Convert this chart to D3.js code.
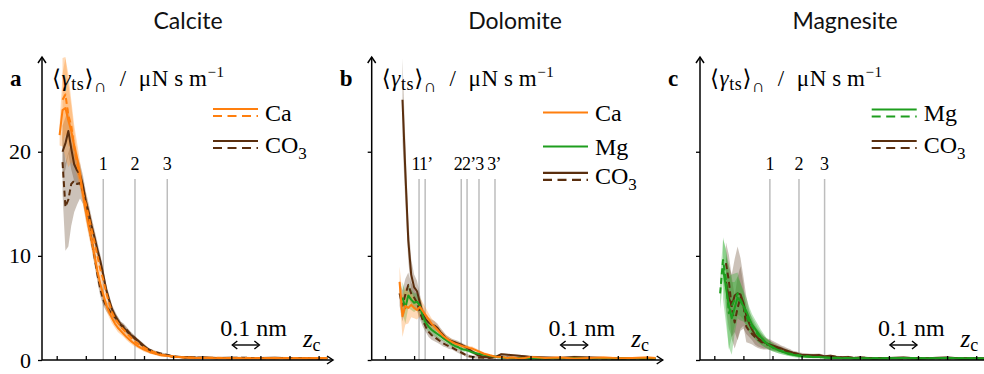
<!DOCTYPE html>
<html><head><meta charset="utf-8">
<script src="https://cdn.jsdelivr.net/npm/d3@7"></script>
<style>
body{margin:0;background:#fff;}
svg{display:block;}
.serif{font-family:"Liberation Serif","DejaVu Serif",serif;}
</style></head>
<body><svg id="chart" width="984" height="374"></svg>
<script>
// ---------- data ----------
const zGrid = [0.01,0.02,0.03,0.04,0.05,0.06,0.07,0.08,0.09,0.10,
0.11,0.12,0.13,0.14,0.15,0.16,0.17,0.18,0.19,0.20,
0.21,0.22,0.23,0.24,0.25,0.26,0.27,0.28,0.29,0.30,
0.32,0.34,0.36,0.38,0.40,0.42,0.44,0.46,0.48,0.50,
0.55,0.60,0.65,0.70,0.75,0.80,0.85,0.90,0.93];
const panelTitles = ["Calcite","Dolomite","Magnesite"];
const panelLetters = ["a","b","c"];
const xTicks = [0,0.1,0.2,0.3,0.4,0.5,0.6,0.7,0.8,0.9];
const yTicks = [0,10,20];
const markersA = [0.16,0.269,0.38];
const labelsA = ["1","2","3"];
const markersB = [0.117,0.138,0.262,0.282,0.323,0.378];
const labelsB = ["1","1’","2","2’","3","3’"];
const markersC = [0.191,0.291,0.379];
const labelsC = ["1","2","3"];

// Calcite
const aCa = [21.6,24.0,24.2,23.0,22.0,20.6,19.4,17.9,16.0,14.3,
12.8,11.5,10.0,8.5,7.3,6.3,5.3,4.6,4.0,3.5,
3.1,2.8,2.5,2.2,1.95,1.7,1.5,1.3,1.15,1.0,
0.75,0.6,0.45,0.4,0.3,0.28,0.25,0.22,0.2,0.22,
0.18,0.2,0.15,0.18,0.2,0.15,0.18,0.2,0.15];
const aCaErr = [1.0,3.5,4.8,4.5,3.0,2.0,1.5,1.2,1.0,1.0,
0.9,0.9,0.8,0.8,0.7,0.7,0.6,0.5,0.5,0.4,
0.4,0.35,0.3,0.3,0.3,0.25,0.25,0.2,0.2,0.2,
0.15,0.15,0.15,0.12,0.12,0.1,0.1,0.1,0.1,0.1,
0.1,0.1,0.1,0.1,0.1,0.1,0.1,0.1,0.1];
const aCaD = [null,25.0,25.5,23.5,22.5,20.5,18.9,17.5,16.0,15.0,
13.8,12.5,11.3,10.0,8.7,7.7,6.5,5.5,4.6,4.0,
3.6,3.2,2.9,2.6,2.3,2.0,1.75,1.55,1.35,1.2,
0.9,0.7,0.5,0.4,0.35,0.3,0.25,0.25,0.2,0.2,
0.22,0.15,0.2,0.18,0.15,0.2,0.15,0.18,0.2];
const aCaDErr = [null,4.0,3.8,3.0,2.0,1.5,1.2,1.0,1.0,1.0,
0.9,0.9,0.8,0.8,0.8,0.7,0.6,0.5,0.5,0.4,
0.4,0.35,0.3,0.3,0.3,0.25,0.25,0.2,0.2,0.2,
0.15,0.15,0.12,0.12,0.1,0.1,0.1,0.1,0.1,0.1,
0.1,0.1,0.1,0.1,0.1,0.1,0.1,0.1,0.1];
const aCO3 = [null,20.0,20.8,22.0,20.3,18.8,18.2,17.8,16.8,15.3,
14.2,12.9,11.8,10.6,9.5,8.2,6.8,5.8,4.9,4.3,
3.8,3.4,3.1,2.8,2.5,2.3,2.0,1.85,1.6,1.35,
0.9,0.65,0.5,0.45,0.3,0.3,0.25,0.28,0.22,0.25,
0.2,0.22,0.18,0.2,0.22,0.18,0.2,0.15,0.18];
const aCO3Err = [null,2.5,2.5,2.2,2.0,1.6,1.3,1.1,1.0,0.9,
0.8,0.8,0.7,0.7,0.6,0.6,0.5,0.5,0.4,0.4,
0.35,0.3,0.3,0.3,0.25,0.25,0.2,0.2,0.2,0.2,
0.15,0.15,0.12,0.12,0.1,0.1,0.1,0.1,0.1,0.1,
0.1,0.1,0.1,0.1,0.1,0.1,0.1,0.1,0.1];
const aCO3D = [null,19.0,14.7,15.4,16.9,17.2,16.9,17.0,16.2,14.6,
13.1,11.5,9.9,8.2,6.8,5.8,5.2,4.8,4.4,4.1,
3.8,3.4,3.2,2.9,2.6,2.3,2.1,1.8,1.5,1.3,
0.96,0.75,0.6,0.48,0.35,0.3,0.25,0.28,0.2,0.22,
0.18,0.2,0.22,0.15,0.18,0.2,0.18,0.15,0.2];
const aCO3DErr = [null,3.0,4.2,4.5,4.0,3.0,2.0,1.5,1.2,1.0,
0.9,0.8,0.8,0.7,0.7,0.6,0.5,0.5,0.4,0.4,
0.35,0.3,0.3,0.3,0.25,0.25,0.2,0.2,0.2,0.2,
0.15,0.15,0.12,0.12,0.1,0.1,0.1,0.1,0.1,0.1,
0.1,0.1,0.1,0.1,0.1,0.1,0.1,0.1,0.1];

// Dolomite
const bCa = [null,null,null,null,7.5,4.2,5.2,5.0,5.3,5.0,
4.8,5.1,4.7,4.3,3.9,3.5,3.2,2.9,2.6,2.3,
2.1,1.9,1.75,1.6,1.5,1.4,1.3,1.25,1.15,1.1,
0.85,0.6,0.45,0.32,0.3,0.2,0.25,0.15,0.2,0.3,
0.2,0.25,0.15,0.2,0.25,0.18,0.2,0.25,0.2];
const bCaErr = [null,null,null,null,1.5,2.0,1.8,1.5,1.2,1.0,
0.9,0.9,0.8,0.7,0.6,0.5,0.5,0.45,0.4,0.35,
0.3,0.3,0.25,0.25,0.25,0.2,0.2,0.2,0.2,0.2,
0.15,0.15,0.12,0.1,0.1,0.1,0.1,0.1,0.1,0.1,
0.1,0.1,0.1,0.1,0.1,0.1,0.1,0.1,0.1];
const bMg = [null,null,null,null,null,6.0,5.0,6.2,5.8,5.5,
5.6,5.2,4.2,3.6,3.2,2.9,2.7,2.5,2.3,2.1,
1.9,1.7,1.5,1.35,1.25,1.1,1.0,0.95,0.85,0.75,
0.6,0.5,0.4,0.32,0.25,0.2,0.18,0.2,0.15,0.18,
0.15,0.2,0.18,0.15,0.2,0.15,0.18,0.2,0.15];
const bMgErr = [null,null,null,null,null,1.5,1.5,1.2,1.0,0.9,
0.8,0.8,0.7,0.6,0.5,0.5,0.45,0.4,0.35,0.3,
0.3,0.25,0.25,0.2,0.2,0.2,0.2,0.15,0.15,0.15,
0.12,0.12,0.1,0.1,0.1,0.1,0.1,0.1,0.1,0.1,
0.1,0.1,0.1,0.1,0.1,0.1,0.1,0.1,0.1];
const bCO3 = [null,null,null,null,null,25.0,18.0,11.5,8.2,7.0,
6.6,5.5,4.4,3.9,3.6,3.4,3.3,3.1,2.7,2.4,
2.1,1.9,1.8,1.7,1.6,1.5,1.35,1.2,1.0,0.8,
0.45,0.3,0.28,0.3,0.55,0.5,0.45,0.4,0.35,0.3,
0.25,0.2,0.3,0.25,0.2,0.15,0.2,0.15,0.1];
const bCO3Err = [null,null,null,null,null,4.0,3.0,2.0,1.5,1.2,
1.0,0.8,0.7,0.6,0.5,0.5,0.45,0.4,0.4,0.35,
0.3,0.3,0.25,0.25,0.25,0.2,0.2,0.2,0.2,0.2,
0.15,0.15,0.12,0.12,0.12,0.1,0.1,0.1,0.1,0.1,
0.1,0.1,0.1,0.1,0.1,0.1,0.1,0.1,0.1];
const bCO3D = [null,null,null,null,6.4,5.2,6.3,7.2,6.4,6.0,
5.5,4.6,3.8,3.2,2.7,2.4,2.2,2.0,1.8,1.6,
1.45,1.3,1.2,1.05,0.9,0.75,0.6,0.45,0.35,0.3,
0.25,0.22,0.2,0.25,0.3,0.25,0.2,0.18,0.2,0.15,
0.18,0.15,0.2,0.18,0.15,0.12,0.15,0.12,0.1];
const bCO3DErr = [null,null,null,null,1.2,1.5,1.5,1.2,1.0,0.9,
0.8,0.7,0.6,0.5,0.5,0.45,0.4,0.35,0.3,0.3,
0.25,0.25,0.2,0.2,0.2,0.2,0.15,0.15,0.15,0.15,
0.12,0.12,0.1,0.1,0.1,0.1,0.1,0.1,0.1,0.1,
0.1,0.1,0.1,0.1,0.1,0.1,0.1,0.1,0.1];

// Magnesite
const cMg = [null,null,8.8,7.0,5.2,4.0,5.0,6.0,5.6,5.2,
4.7,4.0,3.4,3.0,2.6,2.2,1.9,1.6,1.4,1.25,
1.1,0.95,0.85,0.75,0.65,0.55,0.5,0.45,0.4,0.35,
0.32,0.3,0.28,0.25,0.2,0.22,0.18,0.2,0.15,0.18,
0.15,0.18,0.2,0.15,0.18,0.2,0.15,0.18,0.15];
const cMgErr = [null,null,3.0,3.5,4.0,3.5,2.5,2.0,1.8,1.5,
1.3,1.1,1.0,0.9,0.8,0.7,0.6,0.5,0.45,0.4,
0.35,0.3,0.3,0.25,0.25,0.2,0.2,0.2,0.2,0.15,
0.15,0.12,0.12,0.1,0.1,0.1,0.1,0.1,0.1,0.1,
0.1,0.1,0.1,0.1,0.1,0.1,0.1,0.1,0.1];
const cMgD = [null,6.4,9.6,7.7,4.5,5.2,5.8,6.4,5.8,5.2,
4.3,3.6,3.2,2.8,2.4,2.1,1.8,1.6,1.4,1.2,
1.05,0.95,0.85,0.75,0.65,0.6,0.55,0.5,0.45,0.4,
0.35,0.3,0.28,0.25,0.22,0.2,0.18,0.2,0.18,0.15,
0.18,0.15,0.2,0.18,0.15,0.2,0.18,0.15,0.15];
const cMgDErr = [null,1.5,2.0,3.0,3.5,3.0,2.5,2.0,1.6,1.3,
1.1,1.0,0.9,0.8,0.7,0.6,0.5,0.45,0.4,0.35,
0.3,0.3,0.25,0.25,0.2,0.2,0.2,0.2,0.15,0.15,
0.12,0.12,0.1,0.1,0.1,0.1,0.1,0.1,0.1,0.1,
0.1,0.1,0.1,0.1,0.1,0.1,0.1,0.1,0.1];
const cCO3 = [null,null,null,7.5,6.0,5.2,6.2,6.4,6.3,5.5,
4.3,3.5,2.9,2.4,2.1,1.9,1.7,1.6,1.5,1.4,
1.3,1.2,1.1,1.0,0.9,0.8,0.7,0.65,0.55,0.5,
0.48,0.45,0.48,0.35,0.4,0.3,0.25,0.3,0.2,0.25,
0.15,0.2,0.25,0.15,0.2,0.25,0.15,0.2,0.15];
const cCO3Err = [null,null,null,2.5,3.0,3.0,3.5,4.5,3.5,2.5,
1.8,1.3,1.0,0.9,0.8,0.7,0.6,0.5,0.5,0.45,
0.4,0.35,0.3,0.3,0.25,0.25,0.2,0.2,0.2,0.2,
0.15,0.15,0.15,0.12,0.12,0.1,0.1,0.1,0.1,0.1,
0.1,0.1,0.1,0.1,0.1,0.1,0.1,0.1,0.1];
const cCO3D = [null,null,null,9.3,7.6,5.0,3.6,5.0,6.0,5.3,
3.2,2.8,2.5,2.2,1.95,1.75,1.6,1.5,1.4,1.3,
1.2,1.1,1.0,0.9,0.8,0.7,0.65,0.55,0.5,0.45,
0.45,0.4,0.35,0.3,0.35,0.28,0.25,0.22,0.2,0.22,
0.18,0.2,0.15,0.18,0.2,0.15,0.18,0.15,0.12];
const cCO3DErr = [null,null,null,2.0,2.5,3.0,2.5,3.0,3.0,2.0,
1.5,1.2,1.0,0.9,0.8,0.7,0.6,0.5,0.45,0.4,
0.35,0.3,0.3,0.25,0.25,0.2,0.2,0.2,0.2,0.15,
0.15,0.12,0.12,0.1,0.1,0.1,0.1,0.1,0.1,0.1,
0.1,0.1,0.1,0.1,0.1,0.1,0.1,0.1,0.1];

// ---------- styles ----------
const COL = {Ca:"#ff7f0e", Mg:"#1e9e1e", CO3:"#5a2e0e"};
const BAND = {Ca:"rgba(255,140,30,0.32)", Mg:"rgba(40,170,40,0.32)", CO3:"rgba(110,80,55,0.35)"};

const panels = [
 {x0:42, tick0:56.7, markers:markersA, mlabels:labelsA, groups:null, yLabels:true, titleX:188,
  series:[{v:aCO3D,e:aCO3DErr,k:"CO3",dash:true},{v:aCO3,e:aCO3Err,k:"CO3",dash:false},
          {v:aCaD,e:aCaDErr,k:"Ca",dash:true},{v:aCa,e:aCaErr,k:"Ca",dash:false}],
  legend:[{k:"Ca",dashed:true,y:112.5},{k:"CO3",dashed:true,y:144.5}], lx:213},
 {x0:371.7, tick0:385, markers:markersB, mlabels:labelsB, groups:[[0,1],[2,3,4," ",5]], yLabels:false, titleX:515,
  series:[{v:bCO3D,e:bCO3DErr,k:"CO3",dash:true},{v:bCO3,e:bCO3Err,k:"CO3",dash:false},
          {v:bMg,e:bMgErr,k:"Mg",dash:false},{v:bCa,e:bCaErr,k:"Ca",dash:false}],
  legend:[{k:"Ca",dashed:false,y:112.5},{k:"Mg",dashed:false,y:146.5},{k:"CO3",dashed:true,y:176.3}], lx:543},
 {x0:700, tick0:714.3, markers:markersC, mlabels:labelsC, groups:null, yLabels:false, titleX:845,
  series:[{v:cCO3D,e:cCO3DErr,k:"CO3",dash:true},{v:cCO3,e:cCO3Err,k:"CO3",dash:false},
          {v:cMgD,e:cMgDErr,k:"Mg",dash:true},{v:cMg,e:cMgErr,k:"Mg",dash:false}],
  legend:[{k:"Mg",dashed:true,y:113},{k:"CO3",dashed:true,y:144.5}], lx:871.7}
];

const svg = d3.select("#chart");
const Y0 = 360, YTOP = 57, YMAX = 29.1, AXLEN = 291;

function legendName(sel, k){
  if(k==="CO3"){ sel.text("CO"); sel.append("tspan").attr("dy",6).attr("font-size",17).text("3"); }
  else sel.text(k);
}

panels.forEach((p,pi)=>{
  const g = svg.append("g");
  const x = d3.scaleLinear().domain([0,1]).range([p.tick0, p.tick0+AXLEN]);
  const y = d3.scaleLinear().domain([0,YMAX]).range([Y0,YTOP]);

  // title
  svg.append("text").attr("x",p.titleX).attr("y",29).attr("text-anchor","middle")
    .attr("font-family","Lato, 'Open Sans', sans-serif").attr("font-size",23).attr("fill","#111")
    .text(panelTitles[pi]);

  // marker lines
  p.markers.forEach((m,i)=>{
    g.append("line").attr("x1",x(m)).attr("x2",x(m)).attr("y1",179).attr("y2",Y0)
      .attr("stroke","#bdbdbd").attr("stroke-width",1.5);
  });
  if(p.groups){
    p.groups.forEach(grp=>{
      const txt = grp.map(i => typeof i === "string" ? i : p.mlabels[i]).join("");
      g.append("text").attr("class","serif").attr("x",x(p.markers[grp[0]])-7.5).attr("y",170)
        .attr("font-size",18).attr("letter-spacing",-0.8).text(txt);
    });
  } else {
    p.markers.forEach((m,i)=>{
      g.append("text").attr("class","serif").attr("x",x(m)).attr("y",170).attr("text-anchor","middle")
        .attr("font-size",18).text(p.mlabels[i]);
    });
  }

  // clip
  const cid = "clip"+pi;
  svg.append("clipPath").attr("id",cid).append("rect")
    .attr("x",p.x0).attr("y",YTOP).attr("width",AXLEN).attr("height",Y0-YTOP);
  const dg = g.append("g").attr("clip-path",`url(#${cid})`);

  // bands
  p.series.forEach(s=>{
    const pts = zGrid.map((z,i)=>({z, v:s.v[i], e:s.e[i]}));
    const area = d3.area().defined(d=>d.v!=null)
      .x(d=>x(d.z)).y0(d=>y(Math.max(0,d.v-d.e))).y1(d=>y(Math.min(YMAX,d.v+d.e)));
    dg.append("path").attr("d",area(pts)).attr("fill",BAND[s.k]);
  });
  // lines
  p.series.forEach(s=>{
    const pts = zGrid.map((z,i)=>({z, v:s.v[i]}));
    const line = d3.line().defined(d=>d.v!=null).x(d=>x(d.z)).y(d=>y(Math.min(YMAX,d.v)));
    dg.append("path").attr("d",line(pts)).attr("fill","none").attr("stroke",COL[s.k])
      .attr("stroke-width",2).attr("stroke-linejoin","round")
      .attr("stroke-dasharray",s.dash?"6,3.5":null);
  });

  // x ticks
  const xa = d3.axisBottom(x).tickValues(xTicks).tickSize(-4).tickFormat("");
  const xg = g.append("g").attr("transform",`translate(0,${Y0})`).call(xa);
  xg.select(".domain").remove();
  xg.selectAll("line").attr("stroke","#000").attr("stroke-width",1.3);
  // y ticks
  const ya = d3.axisLeft(y).tickValues(yTicks).tickSize(4).tickPadding(7)
     .tickFormat(p.yLabels? d3.format("d") : "");
  const yg = g.append("g").attr("transform",`translate(${p.x0},0)`).call(ya);
  yg.select(".domain").remove();
  yg.selectAll("line").attr("stroke","#000").attr("stroke-width",1.3);
  yg.selectAll("text").attr("font-family","'Liberation Serif', serif").attr("font-size",22).attr("fill","#000");

  // axis lines with arrows
  g.append("line").attr("x1",p.x0).attr("x2",p.x0+AXLEN).attr("y1",Y0).attr("y2",Y0)
    .attr("stroke","#000").attr("stroke-width",1.5);
  g.append("line").attr("x1",p.x0).attr("x2",p.x0).attr("y1",Y0).attr("y2",YTOP)
    .attr("stroke","#000").attr("stroke-width",1.5);
  g.append("path").attr("d",`M${p.x0+AXLEN-6},${Y0-4} L${p.x0+AXLEN},${Y0} L${p.x0+AXLEN-6},${Y0+4}`)
    .attr("fill","none").attr("stroke","#000").attr("stroke-width",1.5);
  g.append("path").attr("d",`M${p.x0-4},${YTOP+6} L${p.x0},${YTOP} L${p.x0+4},${YTOP+6}`)
    .attr("fill","none").attr("stroke","#000").attr("stroke-width",1.5);

  // panel letter
  g.append("text").attr("class","serif").attr("x",p.x0-32).attr("y",86).attr("font-size",23)
    .attr("font-weight","bold").text(panelLetters[pi]);
  // y label
  const yl = g.append("text").attr("class","serif").attr("x",p.x0+10).attr("y",86)
    .attr("font-size",23).attr("letter-spacing",0.6);
  yl.append("tspan").text("⟨");
  yl.append("tspan").attr("font-style","italic").text("γ");
  yl.append("tspan").attr("dy",4).attr("font-size",18).text("ts");
  yl.append("tspan").attr("dy",-4).text("⟩");
  yl.append("tspan").attr("dy",6).attr("font-size",18).text("∩");
  yl.append("tspan").attr("dy",-6).text("\u2002/\u2002μN\u2009s\u2009m");
  yl.append("tspan").attr("dy",-9).attr("font-size",15).text("−1");

  // legend
  p.legend.forEach(l=>{
    const yc = l.y;
    g.append("line").attr("x1",p.lx).attr("x2",p.lx+45).attr("y1",l.dashed?yc-3.5:yc).attr("y2",l.dashed?yc-3.5:yc)
      .attr("stroke",COL[l.k]).attr("stroke-width",2.2);
    if(l.dashed) g.append("line").attr("x1",p.lx).attr("x2",p.lx+45).attr("y1",yc+3.5).attr("y2",yc+3.5)
      .attr("stroke",COL[l.k]).attr("stroke-width",2.2).attr("stroke-dasharray","9,5.5");
    const t = g.append("text").attr("class","serif").attr("x",p.lx+52).attr("y",yc+8).attr("font-size",24);
    legendName(t,l.k);
  });

  // scale bar
  g.append("text").attr("class","serif").attr("x",x(0.6)-11).attr("y",336).attr("font-size",24).text("0.1 nm");
  g.append("line").attr("x1",x(0.6)+2).attr("x2",x(0.7)-2).attr("y1",345).attr("y2",345)
    .attr("stroke","#000").attr("stroke-width",1.4);
  g.append("path").attr("d",`M${x(0.6)+6},${341} L${x(0.6)+1},345 L${x(0.6)+6},349 M${x(0.7)-6},341 L${x(0.7)-1},345 L${x(0.7)-6},349`)
    .attr("fill","none").attr("stroke","#000").attr("stroke-width",1.4);
  const zc = g.append("text").attr("class","serif").attr("x",x(0.846)).attr("y",347).attr("font-size",25);
  zc.append("tspan").attr("font-style","italic").text("z");
  zc.append("tspan").attr("dy",4).attr("font-size",18).text("c");
});
</script></body></html>
